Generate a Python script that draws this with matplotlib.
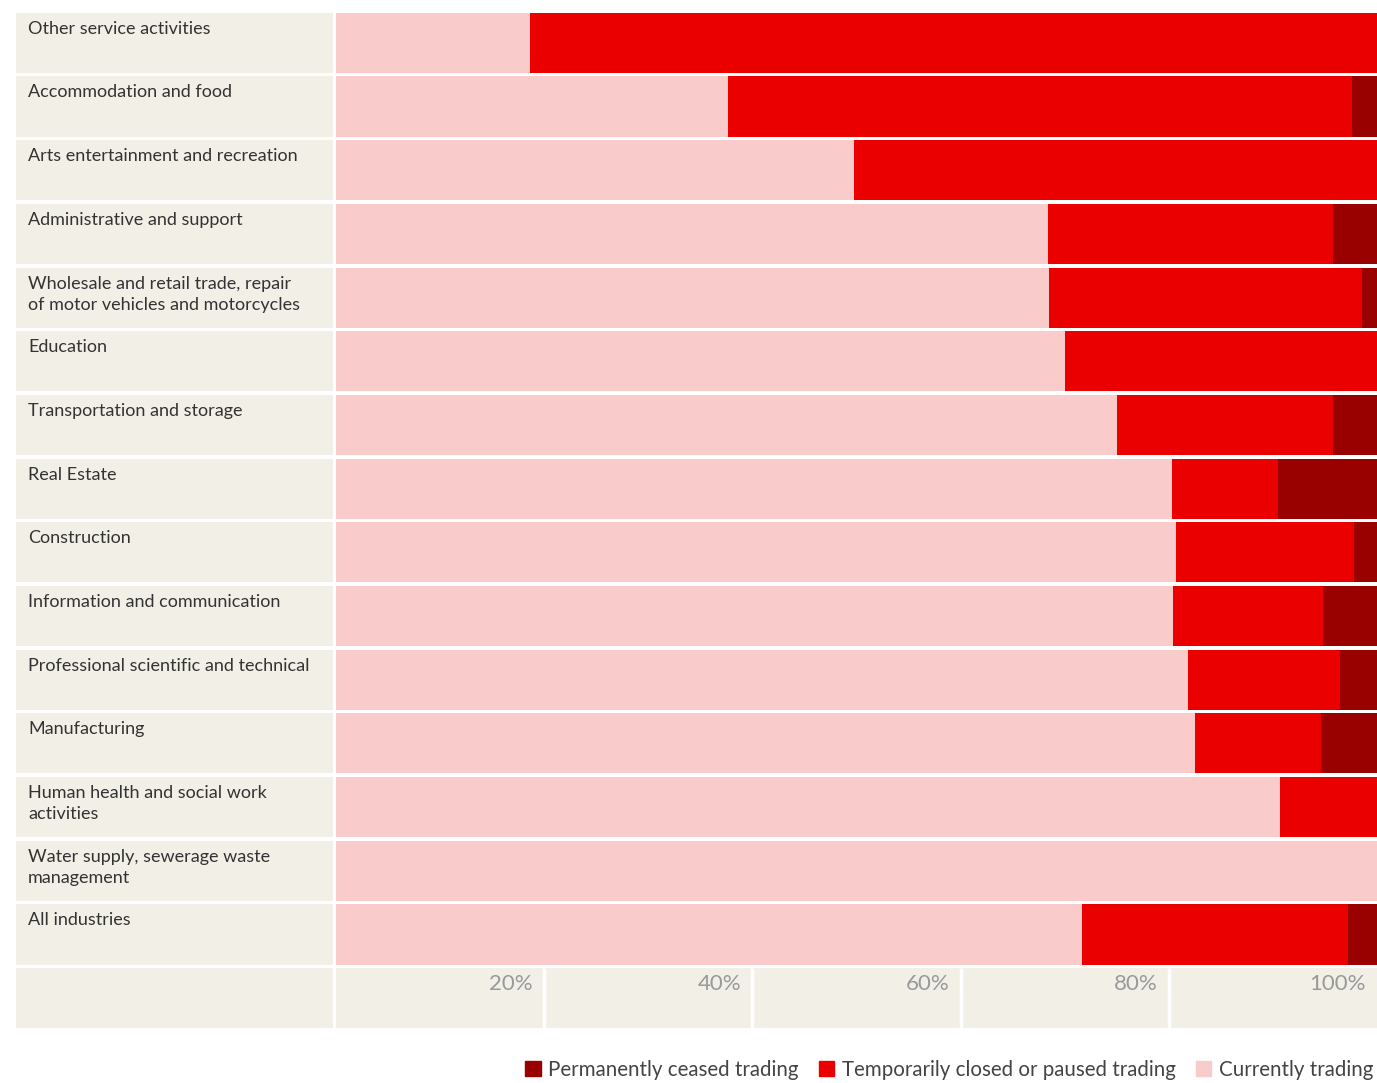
import matplotlib
matplotlib.use("Agg")
import matplotlib.pyplot as plt
from matplotlib.patches import Patch

plt.rcParams['font.family'] = ['Lato', 'DejaVu Sans']

categories = [
    "Other service activities",
    "Accommodation and food",
    "Arts entertainment and recreation",
    "Administrative and support",
    "Wholesale and retail trade, repair\nof motor vehicles and motorcycles",
    "Education",
    "Transportation and storage",
    "Real Estate",
    "Construction",
    "Information and communication",
    "Professional scientific and technical",
    "Manufacturing",
    "Human health and social work\nactivities",
    "Water supply, sewerage waste\nmanagement",
    "All industries",
]
currently_trading = [18.6, 37.7, 49.8, 68.4, 68.5, 70.0, 75.0, 80.3, 80.7, 80.4, 81.8, 82.5, 90.7, 100.0, 71.7]
temporarily_closed = [81.4, 59.9, 50.2, 27.4, 30.1, 30.0, 20.8, 10.2, 17.1, 14.4, 14.6, 12.1, 9.3, 0.0, 25.5]
permanently_ceased = [0.0, 2.4, 0.0, 4.2, 1.4, 0.0, 4.2, 9.5, 2.2, 5.2, 3.6, 5.4, 0.0, 0.0, 2.8]
tick_values = [20, 40, 60, 80, 100]
tick_labels = ["20%", "40%", "60%", "80%", "100%"]

C_CUR = "#f9cbca"
C_TMP = "#eb0000"
C_PERM = "#990000"
BEIGE = "#f2efe7"
TXT = "#333333"

W, H = 1377, 1083
fig = plt.figure(figsize=(W / 100, H / 100), dpi=100)

top_px, bot_px = 11, 1030
n = len(categories)
rows = n + 1
pitch = (bot_px - top_px) / rows
bar_h = (pitch - 3.6) / pitch

def ax_rect(x0, x1):
    return [x0 / W, 1 - bot_px / H, (x1 - x0) / W, (bot_px - top_px) / H]

# label column
axl = fig.add_axes(ax_rect(16, 333))
axl.set_xlim(0, 317)
axl.set_ylim(rows - 0.5, -0.5)
axl.axis('off')
ys = list(range(rows))
axl.barh(ys, [317] * rows, left=0, height=bar_h, color=BEIGE, linewidth=0)
for i, c in enumerate(categories):
    axl.text(12, i - bar_h / 2 + 8 / pitch, c, ha='left', va='top', fontsize=13,
             color=TXT, linespacing=1.4)

# bar area
ax = fig.add_axes(ax_rect(336, 1377))
ax.set_xlim(0, 100)
ax.set_ylim(rows - 0.5, -0.5)
ax.axis('off')
y = list(range(n))
left2 = [a for a in currently_trading]
left3 = [a + b for a, b in zip(currently_trading, temporarily_closed)]
ax.barh(y, currently_trading, height=bar_h, color=C_CUR, linewidth=0)
ax.barh(y, temporarily_closed, left=left2, height=bar_h, color=C_TMP, linewidth=0)
ax.barh(y, permanently_ceased, left=left3, height=bar_h, color=C_PERM, linewidth=0)

# axis row
ax.barh([n], [100], height=bar_h, color=BEIGE, linewidth=0)
for v in tick_values[:-1]:
    ax.vlines(v, n - bar_h / 2, n + bar_h / 2, color='white', linewidth=2.5)
for v, lab in zip(tick_values, tick_labels):
    ax.text(v - 1.1, n - bar_h / 2 + 6 / pitch, lab, ha='right', va='top',
            fontsize=16, color='#999999')

handles = [Patch(color=C_PERM, label="Permanently ceased trading"),
           Patch(color=C_TMP, label="Temporarily closed or paused trading"),
           Patch(color=C_CUR, label="Currently trading")]
fig.legend(handles=handles, loc='center right', bbox_to_anchor=(1373 / W, 1 - 1070 / H),
           ncol=3, frameon=False, fontsize=14.8, handlelength=0.75, handleheight=0.75,
           columnspacing=1.0, handletextpad=0.35, borderaxespad=0, borderpad=0,
           labelcolor='#444444')

fig.savefig("out.png", dpi=100, facecolor='white')
